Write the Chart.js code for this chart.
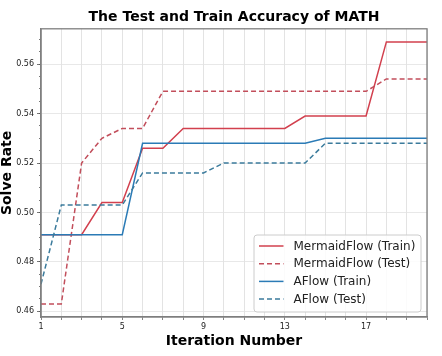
<!DOCTYPE html>
<html><head><meta charset="utf-8">
<script src="https://cdn.jsdelivr.net/npm/chart.js@4.4.1/dist/chart.umd.min.js"></script>
<style>html,body{margin:0;padding:0;background:#fff}#wrap{width:442px;height:356px}</style>
</head><body><div id="wrap"><canvas id="c" width="442" height="356"></canvas></div>
<script>
const iterations = [1,2,3,4,5,6,7,8,9,10,11,12,13,14,15,16,17,18,19,20];
const mermaidTrain = [0.491,0.491,0.491,0.504,0.504,0.526,0.526,0.534,0.534,0.534,0.534,0.534,0.534,0.539,0.539,0.539,0.539,0.569,0.569,0.569];
const mermaidTest  = [0.463,0.463,0.520,0.530,0.534,0.534,0.549,0.549,0.549,0.549,0.549,0.549,0.549,0.549,0.549,0.549,0.549,0.554,0.554,0.554];
const aflowTrain   = [0.491,0.491,0.491,0.491,0.491,0.528,0.528,0.528,0.528,0.528,0.528,0.528,0.528,0.528,0.530,0.530,0.530,0.530,0.530,0.530];
const aflowTest    = [0.471,0.503,0.503,0.503,0.503,0.516,0.516,0.516,0.516,0.520,0.520,0.520,0.520,0.520,0.528,0.528,0.528,0.528,0.528,0.528];
const seriesNames = ['MermaidFlow (Train)','MermaidFlow (Test)','AFlow (Train)','AFlow (Test)'];
const yTicks = [0.46,0.48,0.50,0.52,0.54,0.56];
const yMinorTicks = [0.46,0.465,0.47,0.475,0.48,0.485,0.49,0.495,0.50,0.505,0.51,0.515,0.52,0.525,0.53,0.535,0.54,0.545,0.55,0.555,0.56,0.565,0.57];
const xTickLabels = [1,5,9,13,17];
const xMin = 1, xMax = 20, yMin = 0.4577, yMax = 0.5743;

const FONT = "'DejaVu Sans', sans-serif";
const RED = '#d2404e', RED_D = '#c24e5b', BLUE = '#2b7bb6', BLUE_D = '#3b7b9c';

function pts(arr){ return iterations.map((x,i)=>({x:x,y:arr[i]})); }

const framePlugin = {
  id:'frame',
  afterDatasetsDraw(chart){
    const {ctx, chartArea:a} = chart;
    ctx.save();
    ctx.strokeStyle = '#7f7f7f';
    ctx.lineWidth = 1.3;
    ctx.strokeRect(a.left, a.top, a.right-a.left, a.bottom-a.top);
    ctx.restore();
  }
};

const legendPlugin = {
  id:'boxLegend',
  afterDraw(chart){
    const {ctx, chartArea:a} = chart;
    const w = 167, h = 77;
    const x0 = a.right - 6 - w, y0 = a.bottom - 5 - h;
    ctx.save();
    ctx.beginPath();
    ctx.roundRect(x0, y0, w, h, 3);
    ctx.fillStyle = 'rgba(255,255,255,0.85)';
    ctx.fill();
    ctx.strokeStyle = '#cccccc';
    ctx.lineWidth = 1;
    ctx.stroke();
    ctx.font = "12px " + FONT;
    ctx.textBaseline = 'middle';
    ctx.fillStyle = '#222';
    chart.data.datasets.forEach((ds,i)=>{
      const cy = y0 + 11 + i*17.7;
      ctx.beginPath();
      ctx.setLineDash(ds.borderDash || []);
      ctx.strokeStyle = ds.borderColor;
      ctx.lineWidth = ds.borderWidth;
      ctx.moveTo(x0+5, cy);
      ctx.lineTo(x0+29.5, cy);
      ctx.stroke();
      ctx.setLineDash([]);
      ctx.fillText(ds.label, x0+39.5, cy+0.5);
    });
    ctx.restore();
  }
};

new Chart(document.getElementById('c'), {
  type:'line',
  data:{
    datasets:[
      {label:seriesNames[0], data:pts(mermaidTrain), borderColor:RED, borderWidth:1.5, pointRadius:0, tension:0, fill:false, order:4},
      {label:seriesNames[1], data:pts(mermaidTest), borderColor:RED_D, borderWidth:1.5, borderDash:[5,3], pointRadius:0, tension:0, fill:false, order:3},
      {label:seriesNames[2], data:pts(aflowTrain), borderColor:BLUE, borderWidth:1.5, pointRadius:0, tension:0, fill:false, order:2},
      {label:seriesNames[3], data:pts(aflowTest), borderColor:BLUE_D, borderWidth:1.5, borderDash:[5,3], pointRadius:0, tension:0, fill:false, order:1}
    ]
  },
  options:{
    responsive:false, animation:false, devicePixelRatio:1,
    layout:{padding:{left:0,right:15,top:0,bottom:0}},
    plugins:{
      legend:{display:false},
      tooltip:{enabled:false},
      title:{display:true, fullSize:false, text:'The Test and Train Accuracy of MATH', color:'#000',
        font:{family:FONT, size:14, weight:'bold'}, padding:{top:9,bottom:3}}
    },
    scales:{
      x:{
        type:'linear', position:'bottom', min:xMin, max:xMax,
        afterBuildTicks(s){ s.ticks = iterations.map(v=>({value:v})); },
        afterFit(s){ s.height = 39; },
        ticks:{autoSkip:false, maxRotation:0, padding:2, color:'#222',
          font:{family:FONT, size:8},
          callback:(v)=> xTickLabels.includes(v) ? String(v) : ''},
        grid:{color:'#dcdcdc', lineWidth:0.8, tickLength:3, tickColor:'#666'},
        border:{color:'#7f7f7f', width:1.3},
        title:{display:true, text:'Iteration Number', color:'#000',
          font:{family:FONT, size:14, weight:'bold', lineHeight:1}, padding:{top:0,bottom:8}}
      },
      y:{
        type:'linear', position:'left', weight:1, min:yMin, max:yMax,
        afterBuildTicks(s){ s.ticks = yTicks.map(v=>({value:v})); },
        afterFit(s){ s.width = 41; },
        ticks:{padding:3, color:'#222', font:{family:FONT, size:8},
          callback:(v)=> Number(v).toFixed(2)},
        grid:{color:'#e2e2e2', lineWidth:0.8, tickLength:4, tickColor:'#555'},
        border:{color:'#7f7f7f', width:1.3},
        title:{display:true, text:'Solve Rate', color:'#000',
          font:{family:FONT, size:14, weight:'bold', lineHeight:1}, padding:{top:0,bottom:0}}
      },
      yMinor:{
        type:'linear', position:'left', weight:0, min:yMin, max:yMax,
        afterBuildTicks(s){ s.ticks = yMinorTicks.map(v=>({value:v})); },
        afterFit(s){ s.width = 0; },
        ticks:{display:false},
        grid:{drawOnChartArea:false, drawTicks:true, tickLength:2, tickColor:'#555', lineWidth:0.8},
        border:{display:false}
      }
    }
  },
  plugins:[framePlugin, legendPlugin]
});
</script>
</body></html>
